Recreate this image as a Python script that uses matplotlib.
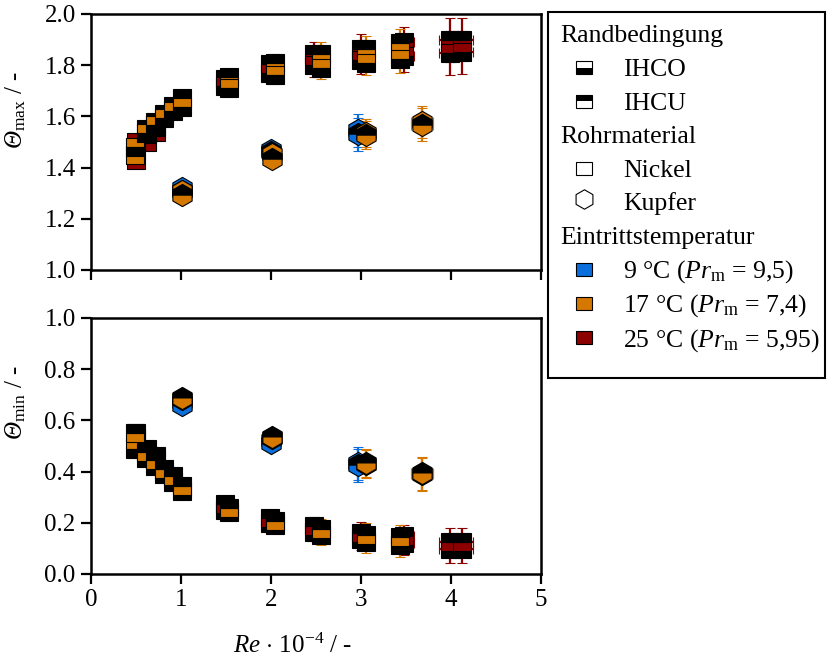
import matplotlib
matplotlib.use('Agg')
import matplotlib.pyplot as plt
from matplotlib.lines import Line2D
from matplotlib.patches import Rectangle
from matplotlib.legend_handler import HandlerBase

plt.rcParams['font.family'] = ['Liberation Serif', 'DejaVu Serif']
plt.rcParams['mathtext.fontset'] = 'custom'
plt.rcParams['mathtext.rm'] = 'Liberation Serif'
plt.rcParams['mathtext.it'] = 'Liberation Serif:italic'
plt.rcParams['mathtext.sf'] = 'Liberation Serif:italic'
plt.rcParams['mathtext.bf'] = 'Liberation Serif:bold'

C_BLUE = '#0a6fdc'
C_ORANGE = '#d47800'
C_RED = '#8c0000'

# ---------------- data ----------------
# Nickel, 25 °C
ni25_re = [0.50, 0.62, 0.72, 1.49, 1.99, 2.48, 3.00, 3.48, 3.99, 4.12]
ni25_max_ihco = [1.50, 1.53, 1.56, 1.72, 1.77, 1.80, 1.82, 1.835, 1.848, 1.850]
ni25_max_ihcu = [1.43, 1.50, 1.54, 1.745, 1.805, 1.845, 1.865, 1.89, 1.898, 1.900]
ni25_min_ihco = [0.53, 0.47, 0.44, 0.25, 0.20, 0.165, 0.135, 0.12, 0.097, 0.097]
ni25_min_ihcu = [0.55, 0.49, 0.46, 0.272, 0.218, 0.187, 0.162, 0.147, 0.126, 0.126]
ni25_err_max = [0.02, 0.02, 0.02, 0.03, 0.035, 0.045, 0.055, 0.06, 0.085, 0.085]
ni25_err_min = [0.02, 0.02, 0.02, 0.025, 0.03, 0.035, 0.04, 0.045, 0.055, 0.055]
ni25_xerr = [0.015, 0.02, 0.02, 0.045, 0.06, 0.075, 0.09, 0.105, 0.12, 0.12]

# Nickel, 17 °C
ni17_re = [0.49, 0.61, 0.71, 0.81, 0.91, 1.01, 1.53, 2.04, 2.55, 3.05, 3.43]
ni17_max_ihco = [1.48, 1.535, 1.565, 1.595, 1.62, 1.638, 1.71, 1.76, 1.79, 1.81, 1.825]
ni17_max_ihcu = [1.45, 1.55, 1.58, 1.61, 1.64, 1.67, 1.755, 1.81, 1.845, 1.865, 1.885]
ni17_min_ihco = [0.49, 0.455, 0.42, 0.39, 0.36, 0.325, 0.242, 0.19, 0.152, 0.126, 0.113]
ni17_min_ihcu = [0.551, 0.478, 0.444, 0.411, 0.383, 0.345, 0.257, 0.208, 0.176, 0.154, 0.145]
ni17_err_max = [0.015, 0.015, 0.015, 0.015, 0.02, 0.02, 0.025, 0.035, 0.045, 0.05, 0.055]
ni17_err_min = [0.015, 0.015, 0.015, 0.015, 0.015, 0.02, 0.02, 0.03, 0.04, 0.045, 0.045]
ni17_xerr = [0.015, 0.018, 0.021, 0.024, 0.027, 0.03, 0.046, 0.06, 0.075, 0.09, 0.10]

# Kupfer, 9 °C
cu9_re = [1.01, 2.00, 2.97]
cu9_max_ihco = [1.32, 1.47, 1.545]
cu9_max_ihcu = [1.31, 1.46, 1.53]
cu9_min_ihco = [0.672, 0.522, 0.432]
cu9_min_ihcu = [0.66, 0.51, 0.425]
cu9_err = [0.02, 0.03, 0.065]
cu9_xerr = [0.03, 0.06, 0.09]

# Kupfer, 17 °C
cu17_re = [1.01, 2.01, 3.05, 3.68]
cu17_max_ihco = [1.307, 1.452, 1.535, 1.578]
cu17_max_ihcu = [1.293, 1.434, 1.527, 1.568]
cu17_min_ihco = [0.683, 0.532, 0.43, 0.39]
cu17_min_ihcu = [0.688, 0.537, 0.435, 0.393]
cu17_err = [0.02, 0.03, 0.055, 0.064]
cu17_xerr = [0.03, 0.06, 0.09, 0.12]

x_ticks = [0, 1, 2, 3, 4, 5]
ymax_ticks = [1.0, 1.2, 1.4, 1.6, 1.8, 2.0]
ymin_ticks = [0.0, 0.2, 0.4, 0.6, 0.8, 1.0]

legend_labels = ['Randbedingung', 'IHCO', 'IHCU', 'Rohrmaterial', 'Nickel', 'Kupfer',
                 'Eintrittstemperatur',
                 r'9 °C ($Pr_\mathrm{m}$ = 9,5)',
                 r'17 °C ($Pr_\mathrm{m}$ = 7,4)',
                 r'25 °C ($Pr_\mathrm{m}$ = 5,95)']

# ---------------- figure ----------------
fig = plt.figure(figsize=(8.33, 6.64), dpi=100)
ax1 = fig.add_axes([91/833, 1-270/664, 450/833, 256/664])
ax2 = fig.add_axes([91/833, 1-574/664, 450/833, 256/664])

MS = {'s': 12.8, 'h': 16.0}


def draw(ax, re, y, err, xerr, color, marker, bc):
    fs = 'top' if bc == 'IHCO' else 'bottom'
    ax.errorbar(re, y, yerr=err, xerr=xerr, fmt=marker, ls='none',
                ms=MS[marker], mfc=color, markerfacecoloralt='black',
                fillstyle=fs, mec='black', mew=0.8,
                ecolor=color, elinewidth=1.6, capsize=3.5, capthick=1.6)


# top panel (theta_max)
draw(ax1, ni25_re, ni25_max_ihcu, ni25_err_max, ni25_xerr, C_RED, 's', 'IHCU')
draw(ax1, ni25_re, ni25_max_ihco, ni25_err_max, ni25_xerr, C_RED, 's', 'IHCO')
draw(ax1, cu9_re, cu9_max_ihco, cu9_err, cu9_xerr, C_BLUE, 'h', 'IHCO')
draw(ax1, cu9_re, cu9_max_ihcu, cu9_err, cu9_xerr, C_BLUE, 'h', 'IHCU')
draw(ax1, ni17_re, ni17_max_ihcu, ni17_err_max, ni17_xerr, C_ORANGE, 's', 'IHCU')
draw(ax1, ni17_re, ni17_max_ihco, ni17_err_max, ni17_xerr, C_ORANGE, 's', 'IHCO')
draw(ax1, cu17_re, cu17_max_ihco, cu17_err, cu17_xerr, C_ORANGE, 'h', 'IHCO')
draw(ax1, cu17_re, cu17_max_ihcu, cu17_err, cu17_xerr, C_ORANGE, 'h', 'IHCU')

# bottom panel (theta_min)
draw(ax2, ni25_re, ni25_min_ihco, ni25_err_min, ni25_xerr, C_RED, 's', 'IHCO')
draw(ax2, ni25_re, ni25_min_ihcu, ni25_err_min, ni25_xerr, C_RED, 's', 'IHCU')
draw(ax2, cu9_re, cu9_min_ihco, cu9_err, cu9_xerr, C_BLUE, 'h', 'IHCO')
draw(ax2, cu9_re, cu9_min_ihcu, cu9_err, cu9_xerr, C_BLUE, 'h', 'IHCU')
draw(ax2, ni17_re, ni17_min_ihco, ni17_err_min, ni17_xerr, C_ORANGE, 's', 'IHCO')
draw(ax2, ni17_re, ni17_min_ihcu, ni17_err_min, ni17_xerr, C_ORANGE, 's', 'IHCU')
draw(ax2, cu17_re, cu17_min_ihco, cu17_err, cu17_xerr, C_ORANGE, 'h', 'IHCO')
draw(ax2, cu17_re, cu17_min_ihcu, cu17_err, cu17_xerr, C_ORANGE, 'h', 'IHCU')

for ax, yt in ((ax1, ymax_ticks), (ax2, ymin_ticks)):
    ax.set_xlim(x_ticks[0], x_ticks[-1])
    ax.set_ylim(yt[0], yt[-1])
    ax.set_xticks(x_ticks)
    ax.set_yticks(yt)
    ax.set_yticklabels([f'{v:.1f}' for v in yt])
    for sp in ax.spines.values():
        sp.set_linewidth(1.8)
    ax.tick_params(direction='out', length=7, width=1.6, labelsize=18,
                   top=False, right=False, pad=4)

ax1.tick_params(labelbottom=False)
ax2.set_xticklabels([str(v) for v in x_ticks])

ax1.set_ylabel(r'$\mathsf{\Theta}_\mathrm{max}$ / -', fontsize=18)
ax2.set_ylabel(r'$\mathsf{\Theta}_\mathrm{min}$ / -', fontsize=18)
ax1.yaxis.set_label_coords(-0.14, 0.625)
ax2.yaxis.set_label_coords(-0.14, 0.67)
ax2.set_xlabel(r'$Re$ $\cdot$ 10$^{-4}$ / -', fontsize=18)
ax2.xaxis.set_label_coords(0.447, -0.235)

# ---------------- legend ----------------
class RectHandle:
    def __init__(self, top, bottom):
        self.top = top
        self.bottom = bottom


class RectHandler(HandlerBase):
    def create_artists(self, legend, orig_handle, xdescent, ydescent,
                       width, height, fontsize, trans):
        w, h = 12.2, 9.4
        xc = -xdescent + width / 2
        yc = -ydescent + height / 2
        x0, y0 = xc - w / 2, yc - h / 2
        lower = Rectangle((x0, y0), w, h / 2, facecolor=orig_handle.bottom,
                          edgecolor='none', transform=trans)
        upper = Rectangle((x0, yc), w, h / 2, facecolor=orig_handle.top,
                          edgecolor='none', transform=trans)
        frame = Rectangle((x0, y0), w, h, facecolor='none', edgecolor='black',
                          lw=0.8, transform=trans)
        return [lower, upper, frame]


blank = Line2D([], [], ls='none', marker='none')
h_ihco = RectHandle('white', 'black')
h_ihcu = RectHandle('black', 'white')
h_ni = RectHandle('white', 'white')
h_cu = Line2D([], [], ls='none', marker='h', ms=14, mfc='white', mec='black', mew=0.8)
h_9 = RectHandle(C_BLUE, C_BLUE)
h_17 = RectHandle(C_ORANGE, C_ORANGE)
h_25 = RectHandle(C_RED, C_RED)
handles = [blank, h_ihco, h_ihcu, blank, h_ni, h_cu, blank, h_9, h_17, h_25]
hm = {RectHandle: RectHandler()}

leg = fig.legend(handles, legend_labels, loc='upper left',
                 bbox_to_anchor=(548/833, 1-12/664), bbox_transform=fig.transFigure,
                 fontsize=18.5, handlelength=2.44, handleheight=1.45,
                 handletextpad=0.3, borderpad=0.18, labelspacing=0.12,
                 borderaxespad=0, fancybox=False, framealpha=1,
                 edgecolor='black', handler_map=hm)
leg.get_frame().set_linewidth(1.5)

headers = {'Randbedingung', 'Rohrmaterial', 'Eintrittstemperatur'}
rows = [row for col in leg._legend_handle_box.get_children()
        for row in col.get_children()]
for row in rows:
    da, ta = row.get_children()
    if ta.get_text() in headers:
        da.set_width(0)
# extra padding above the first row and below the last row
da_first = rows[0].get_children()[0]
da_first.height += 1.5
da_last = rows[-1].get_children()[0]
da_last.height += 15.0
da_last.ydescent += 15.0

fig.savefig('out.png', dpi=100)
